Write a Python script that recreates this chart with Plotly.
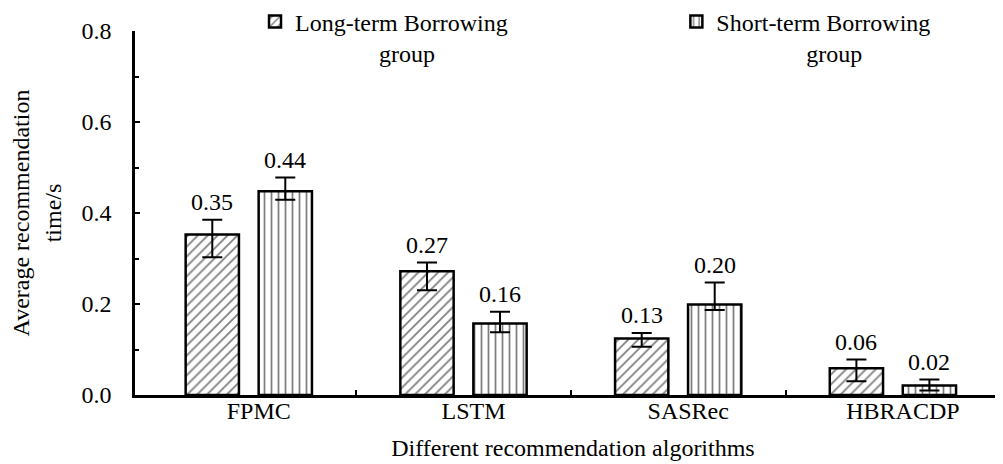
import plotly.graph_objects as go

# ---------------- data ----------------
categories = ["FPMC", "LSTM", "SASRec", "HBRACDP"]
series_names = ["Long-term Borrowing group", "Short-term Borrowing group"]

long_vals = [0.353, 0.272, 0.124, 0.059]
long_err_plus = [0.032, 0.019, 0.012, 0.019]
long_err_minus = [0.050, 0.042, 0.018, 0.029]
long_labels = ["0.35", "0.27", "0.13", "0.06"]

short_vals = [0.448, 0.157, 0.199, 0.021]
short_err_plus = [0.030, 0.026, 0.048, 0.013]
short_err_minus = [0.019, 0.019, 0.012, 0.011]
short_labels = ["0.44", "0.16", "0.20", "0.02"]

y_ticks = [0.0, 0.2, 0.4, 0.6, 0.8]
x_title = "Different recommendation algorithms"
y_title = "Average recommendation<br>time/s"

# ---------------- style ----------------
FONT = "'Liberation Serif', 'Times New Roman', Times, 'DejaVu Serif', serif"
FS = 24
BARGAP = 0.32
BARGROUPGAP = 0.27
NB = "\u00a0"

x_pos = list(range(len(categories)))
half_slot = (1 - BARGAP) / 4.0

fig = go.Figure()

legend_texts = [
    "Long-term Borrowing<br>" + NB * 14 + "group",
    "Short-term Borrowing<br>" + NB * 15 + "group",
]

for name, lt, vals, ep, em, shape, lg in [
    (series_names[0], legend_texts[0], long_vals, long_err_plus, long_err_minus, "/", "legend"),
    (series_names[1], legend_texts[1], short_vals, short_err_plus, short_err_minus, "|", "legend2"),
]:
    fig.add_trace(go.Bar(
        x=x_pos, y=vals, name=lt, legend=lg,
        marker=dict(color="white", line=dict(color="black", width=2.5),
                    pattern=dict(shape=shape, fgcolor="black", bgcolor="white",
                                 size=7, solidity=0.25)),
        error_y=dict(type="data", symmetric=False, array=ep, arrayminus=em,
                     color="black", thickness=2, width=10),
    ))

# value labels above error bars
annotations = []
for sign, vals, ep, labels in [(-1, long_vals, long_err_plus, long_labels),
                               (1, short_vals, short_err_plus, short_labels)]:
    for i, (v, e, t) in enumerate(zip(vals, ep, labels)):
        annotations.append(dict(
            x=x_pos[i] + sign * half_slot, y=v + e, xref="x", yref="y",
            text=t, showarrow=False, yanchor="bottom", yshift=3,
            font=dict(family=FONT, size=FS, color="black")))

legend_common = dict(orientation="h", xanchor="left", yanchor="top", valign="top",
                     bgcolor="rgba(0,0,0,0)",
                     font=dict(family=FONT, size=FS, color="black"))

fig.update_layout(
    width=1003, height=464,
    margin=dict(l=127, r=0, t=23, b=77, pad=0, autoexpand=False),
    paper_bgcolor="white", plot_bgcolor="white",
    barmode="group", bargap=BARGAP, bargroupgap=BARGROUPGAP,
    font=dict(family=FONT, size=FS, color="black"),
    annotations=annotations,
    showlegend=True,
    legend=dict(x=0.137, y=1.087, **legend_common),
    legend2=dict(x=0.618, y=1.087, **legend_common),
    xaxis=dict(
        range=[-0.53, 3.55], tickmode="array", tickvals=x_pos, ticktext=categories,
        ticks="", showline=True, linecolor="black", linewidth=2.5, automargin=False,
        showgrid=False, zeroline=False, ticklabelstandoff=-8, ticklabelshift=10,
        minor=dict(tickmode="array", tickvals=[i + 0.5 for i in x_pos[:-1]],
                   ticks="inside", ticklen=5, tickwidth=2, tickcolor="black", showgrid=False),
        title=dict(text=x_title, font=dict(family=FONT, size=FS), standoff=17),
    ),
    yaxis=dict(
        range=[0, 0.8], tickmode="array", tickvals=y_ticks, tickformat=".1f",
        ticks="inside", ticklen=5, tickwidth=2, tickcolor="black", automargin=False,
        showline=True, linecolor="black", linewidth=2.5,
        showgrid=False, zeroline=False, ticklabelstandoff=16,
        minor=dict(dtick=0.1, tick0=0, ticks="inside", ticklen=4, tickwidth=2,
                   tickcolor="black", showgrid=False),
        title=dict(text=y_title, font=dict(family=FONT, size=FS), standoff=14),
    ),
)

fig.write_html("out.html")
